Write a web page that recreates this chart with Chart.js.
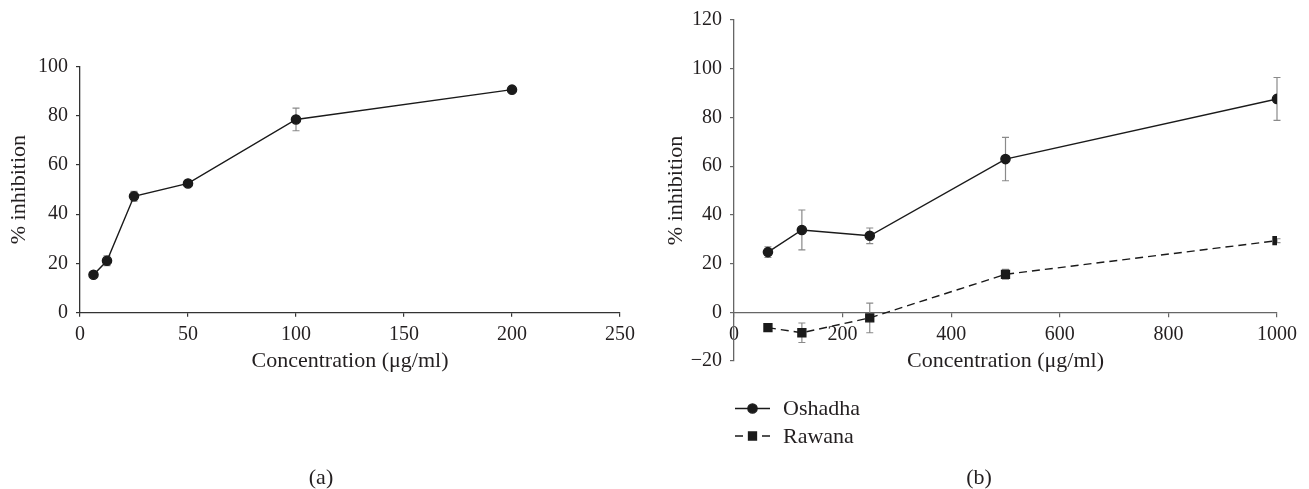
<!DOCTYPE html>
<html><head><meta charset="utf-8">
<script src="https://cdn.jsdelivr.net/npm/chart.js@4.4.1/dist/chart.umd.min.js"></script>
<style>
html,body{margin:0;padding:0;background:#fff;width:1309px;height:489px;overflow:hidden;}
.wrap{position:absolute;top:0;}
.cap{position:absolute;font-family:"Liberation Serif",serif;font-size:22px;color:#231f20;transform:translate(-50%,-50%);white-space:nowrap;}
</style></head><body>
<div class="wrap" style="left:0;width:654px;height:489px"><canvas id="ca"></canvas></div>
<div class="wrap" style="left:654px;width:655px;height:489px"><canvas id="cb"></canvas></div>
<div class="cap" style="left:321px;top:477px">(a)</div>
<div class="cap" style="left:979px;top:477px">(b)</div>
<script>
// ---- data ----
const concA = [6.25, 12.5, 25, 50, 100, 200];
const inhibitionA = [15.4, 21.1, 47.3, 52.5, 78.5, 90.6];
const errorA = [0, 2.0, 2.0, 0, 4.6, 0];

const concB = [62.5, 125, 250, 500, 1000];
const oshadha = [24.7, 33.8, 31.4, 62.9, 87.6];
const oshadhaErr = [2.2, 8.2, 3.2, 8.9, 8.8];
const rawana = [-6.3, -8.4, -2.3, 15.6, 29.4];
const rawanaErr = [0.5, 4.0, 6.1, 2.0, 0.8];

const seriesNames = ['Oshadha', 'Rawana'];
const xTitle = 'Concentration (μg/ml)';
const yTitle = '% inhibition';
const xTicksA = [0, 250, 50];   // min, max, step
const yTicksA = [0, 100, 20];
const xTicksB = [0, 1000, 200];
const yTicksB = [-20, 120, 20];

// ---- style ----
const FAM = '"Liberation Serif", "Times New Roman", serif';
const TXT = '#231f20';
const pts = (xs, ys) => xs.map((x, i) => ({x, y: ys[i]}));
const fmt = v => String(v).replace('-', '\u2212');

const errorBars = {
  id: 'errorBars',
  beforeDatasetsDraw(chart) {
    const ctx = chart.ctx, xs = chart.scales.x, ys = chart.scales.y;
    ctx.save();
    ctx.strokeStyle = '#8a8a8a';
    ctx.lineWidth = 1.2;
    chart.data.datasets.forEach(ds => {
      (ds.errors || []).forEach((e, i) => {
        if (!e) return;
        const p = ds.data[i];
        const x = xs.getPixelForValue(p.x);
        const y1 = ys.getPixelForValue(p.y + e), y2 = ys.getPixelForValue(p.y - e);
        ctx.beginPath();
        ctx.moveTo(x, y1); ctx.lineTo(x, y2);
        ctx.moveTo(x - 3.5, y1); ctx.lineTo(x + 3.5, y1);
        ctx.moveTo(x - 3.5, y2); ctx.lineTo(x + 3.5, y2);
        ctx.stroke();
      });
    });
    ctx.restore();
  }
};

const sideLegend = {
  id: 'sideLegend',
  afterDraw(chart, args, opts) {
    if (!opts || !opts.display) return;
    const ctx = chart.ctx;
    chart.data.datasets.forEach((ds, i) => {
      const y = opts.y0 + i * opts.dy;
      ctx.save();
      ctx.strokeStyle = ds.borderColor;
      ctx.lineWidth = ds.borderWidth;
      ctx.setLineDash(ds.borderDash && ds.borderDash.length ? [8, 19] : []);
      ctx.beginPath(); ctx.moveTo(opts.x0, y); ctx.lineTo(opts.x0 + 35, y); ctx.stroke();
      ctx.setLineDash([]);
      ctx.fillStyle = ds.pointBackgroundColor;
      ctx.strokeStyle = ds.pointBorderColor;
      Chart.helpers.drawPoint(ctx, {pointStyle: ds.pointStyle, radius: ds.pointRadius, borderWidth: 1, rotation: 0}, opts.x0 + 17.5, y);
      ctx.fillStyle = TXT;
      ctx.font = '22px ' + FAM;
      ctx.textBaseline = 'middle';
      ctx.textAlign = 'left';
      ctx.fillText(ds.label, opts.x0 + 48, y + 1);
      ctx.restore();
    });
  }
};

function tickOpts(step, pad) {
  return {stepSize: step, color: TXT, font: {family: FAM, size: 20}, padding: pad, callback: v => fmt(v)};
}
function titleOpts(text) {
  return {display: true, text, color: TXT, font: {family: FAM, size: 22}, padding: {top: 4, bottom: 4}};
}
function axis(min, max, color, extra) {
  return Object.assign({
    type: 'linear', min, max,
    grid: {display: true, drawOnChartArea: false, drawTicks: true, tickLength: 4, color, lineWidth: 1.2},
    border: {display: true, color, width: 1.3}
  }, extra);
}

function lineDs(label, data, errors, style, dashed) {
  return {
    label, data, errors,
    borderColor: '#1a1a1a', backgroundColor: '#1a1a1a',
    pointBackgroundColor: '#1a1a1a', pointBorderColor: '#1a1a1a',
    borderWidth: 1.4, borderDash: dashed ? [8, 5] : [],
    pointStyle: style, pointRadius: style === 'rect' ? 5.6 : 4.6,
    tension: 0, fill: false
  };
}

const common = {
  responsive: true, maintainAspectRatio: false, animation: false, devicePixelRatio: 1
};

// Chart (a)
new Chart(document.getElementById('ca'), {
  type: 'line',
  data: {datasets: [lineDs('Oshadha', pts(concA, inhibitionA), errorA, 'circle', false)]},
  options: Object.assign({}, common, {
    layout: {padding: {left: 2, top: 66.5, right: 34, bottom: 110.1}},
    plugins: {legend: {display: false}, tooltip: {enabled: false}},
    scales: {
      x: axis(xTicksA[0], xTicksA[1], '#333333', {
        ticks: tickOpts(xTicksA[2], 6),
        title: titleOpts(xTitle),
        afterFit(s) { s.height = 66.2; }
      }),
      y: axis(yTicksA[0], yTicksA[1], '#333333', {
        ticks: tickOpts(yTicksA[2], 8),
        title: titleOpts(yTitle),
        afterFit(s) { s.width = 78; }
      })
    }
  }),
  plugins: [errorBars]
});

// Chart (b)
new Chart(document.getElementById('cb'), {
  type: 'line',
  data: {datasets: [
    lineDs(seriesNames[0], pts(concB, oshadha), oshadhaErr, 'circle', false),
    lineDs(seriesNames[1], pts(concB, rawana), rawanaErr, 'rect', true)
  ]},
  options: Object.assign({}, common, {
    layout: {padding: {left: 5, top: 15.7, right: 32, bottom: 128}},
    plugins: {legend: {display: false}, tooltip: {enabled: false}, sideLegend: {display: true, x0: 81, y0: 408.5, dy: 27.5}},
    scales: {
      x: axis(xTicksB[0], xTicksB[1], '#666666', {
        position: {y: 0},
        ticks: tickOpts(xTicksB[2], 6),
        title: titleOpts(xTitle),
        afterFit(s) { s.height = 66.6; }
      }),
      y: axis(yTicksB[0], yTicksB[1], '#666666', {
        ticks: tickOpts(yTicksB[2], 8),
        title: titleOpts(yTitle),
        afterFit(s) { s.width = 75; }
      })
    }
  }),
  plugins: [errorBars, sideLegend]
});
</script>
</body></html>
